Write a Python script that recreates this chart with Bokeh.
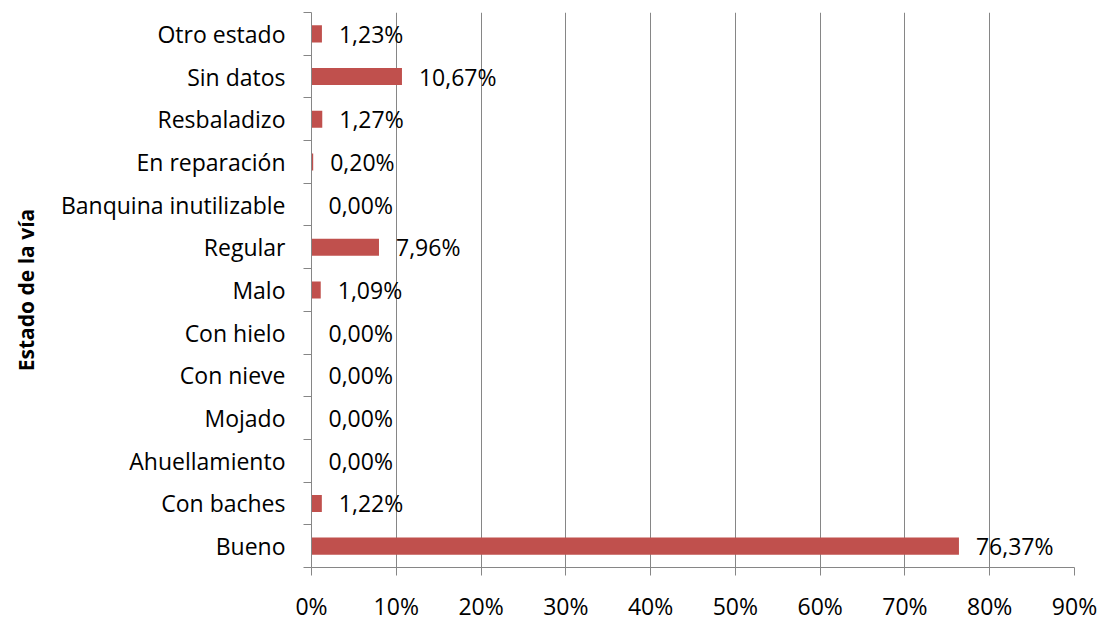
from bokeh.plotting import figure
from bokeh.models import ColumnDataSource, Range1d, FixedTicker, NumeralTickFormatter
from bokeh.embed import file_html
from bokeh.resources import INLINE
from bokeh.core.properties import value

categories = ["Bueno", "Con baches", "Ahuellamiento", "Mojado", "Con nieve", "Con hielo",
              "Malo", "Regular", "Banquina inutilizable", "En reparación", "Resbaladizo",
              "Sin datos", "Otro estado"]
percent_values = [76.37, 1.22, 0.00, 0.00, 0.00, 0.00, 1.09, 7.96, 0.00, 0.20, 1.27, 10.67, 1.23]
x_ticks = [0.0, 0.1, 0.2, 0.3, 0.4, 0.5, 0.6, 0.7, 0.8, 0.9]

FONT = "Open Sans"
BAR = "#C0504D"
GRID = "#868686"

ys = [i + 0.5 for i in range(len(categories))]
src = ColumnDataSource(dict(
    y=ys,
    x=[v / 100 for v in percent_values],
    label=[f"{v:.2f}%".replace(".", ",") for v in percent_values],
))

p = figure(output_backend="svg", toolbar_location=None,
           frame_width=763, frame_height=555,
           min_border_left=311, min_border_top=12, min_border_right=24, min_border_bottom=48,
           x_range=Range1d(0, 0.9), y_range=Range1d(0, len(categories)))
p.outline_line_color = None
p.background_fill_color = "white"
p.border_fill_color = "white"

p.hbar(y="y", right="x", left=0, height=0.4, source=src, fill_color=BAR, line_color=None)
p.text(x="x", y="y", text="label", source=src, x_offset=17,
       text_align="left", text_baseline="middle",
       text_font=value(FONT), text_font_size="23px", text_color="black")

# x axis
xa = p.xaxis[0]
xa.ticker = FixedTicker(ticks=x_ticks)
xa.formatter = NumeralTickFormatter(format="0%")
xa.axis_line_color = GRID
xa.major_tick_line_color = GRID
xa.major_tick_out = 8
xa.major_tick_in = 0
xa.minor_tick_line_color = None
xa.major_label_text_font = FONT
xa.major_label_text_font_size = "23px"
xa.major_label_text_color = "black"
xa.major_label_standoff = 14

# y axis
ya = p.yaxis[0]
ya.ticker = FixedTicker(ticks=ys, minor_ticks=list(range(len(categories) + 1)))
ya.major_label_overrides = {y: c for y, c in zip(ys, categories)}
ya.axis_line_color = GRID
ya.major_tick_line_color = None
ya.major_tick_out = 0
ya.major_tick_in = 0
ya.minor_tick_line_color = GRID
ya.minor_tick_out = 8
ya.minor_tick_in = 0
ya.major_label_text_font = FONT
ya.major_label_text_font_size = "23px"
ya.major_label_text_color = "black"
ya.major_label_standoff = 18
ya.axis_label = "Estado de la vía"
ya.axis_label_text_font = FONT
ya.axis_label_text_font_style = "bold"
ya.axis_label_text_font_size = "21px"
ya.axis_label_text_color = "black"
ya.axis_label_standoff = 18

p.xgrid.ticker = FixedTicker(ticks=x_ticks)
p.xgrid.grid_line_color = GRID
p.xgrid.grid_line_width = 1
p.ygrid.grid_line_color = None

open("out.html", "w").write(file_html(p, INLINE))
